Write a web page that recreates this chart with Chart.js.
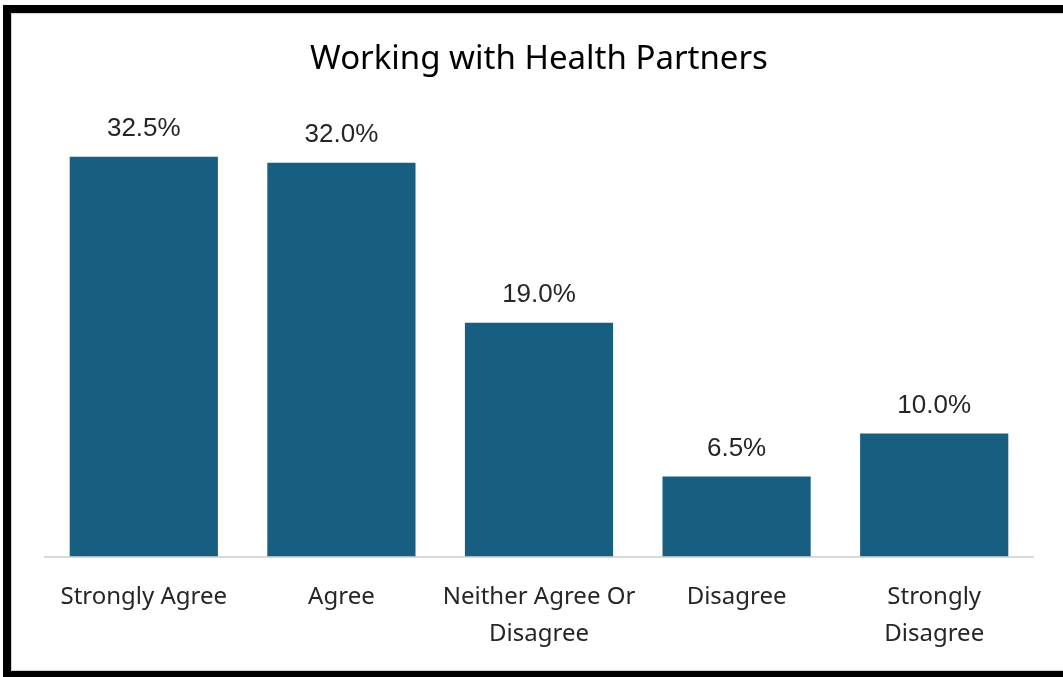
<!DOCTYPE html>
<html>
<head>
<meta charset="utf-8">
<script src="https://cdn.jsdelivr.net/npm/chart.js@4"></script>
<style>
    body { margin: 0; background: #fff; }
    .frame {
        position: absolute; left: 3px; top: 5px; width: 1080px; height: 658px;
        border: 8px solid #000; box-shadow: inset 1px 1px 0 #d0d0d0, inset 0 -1px 0 #d0d0d0;
    }
    #chart { position: absolute; left: 0; top: 0; }
</style>
</head>
<body>
<div class="frame"></div>
<canvas id="chart" width="1063" height="677"></canvas>
<script>
const categories = ['Strongly Agree', 'Agree', ['Neither Agree Or', 'Disagree'], 'Disagree', ['Strongly', 'Disagree']];
const shares = [32.5, 32.0, 19.0, 6.5, 10.0];

const valueLabels = {
    id: 'valueLabels',
    afterDatasetsDraw(chart) {
        const ctx = chart.ctx;
        ctx.save();
        ctx.font = '26px "Liberation Sans", Arial, sans-serif';
        ctx.fillStyle = '#262626';
        ctx.textAlign = 'center';
        ctx.textBaseline = 'alphabetic';
        chart.getDatasetMeta(0).data.forEach((bar, i) => {
            ctx.fillText(shares[i].toFixed(1) + '%', bar.x, bar.y - 21);
        });
        ctx.restore();
    }
};

const canvas = document.getElementById('chart');

new Chart(canvas, {
    type: 'bar',
    data: {
        labels: categories,
        datasets: [{
            data: shares,
            backgroundColor: '#175e80',
            categoryPercentage: 0.75,
            barPercentage: 1
        }]
    },
    options: {
        responsive: false,
        animation: false,
        layout: { padding: { left: 45, right: 30, top: 0, bottom: 2 } },
        scales: {
            y: { display: false, min: 0, max: 32.5 },
            x: {
                grid: { display: false, drawTicks: false },
                border: { display: true, color: '#d9d9d9', width: 2 },
                ticks: {
                    color: '#262626',
                    padding: 22,
                    maxRotation: 0,
                    font: { family: '"Noto Sans", sans-serif', size: 24, lineHeight: 1.55 }
                }
            }
        },
        plugins: {
            legend: { display: false },
            tooltip: { enabled: false },
            title: {
                display: true,
                text: 'Working with Health Partners',
                color: '#000',
                padding: { top: 40, bottom: 77 },
                font: { family: '"Noto Sans", sans-serif', size: 33, weight: 'normal', lineHeight: 1.2 }
            }
        }
    },
    plugins: [valueLabels]
});
</script>
</body>
</html>
